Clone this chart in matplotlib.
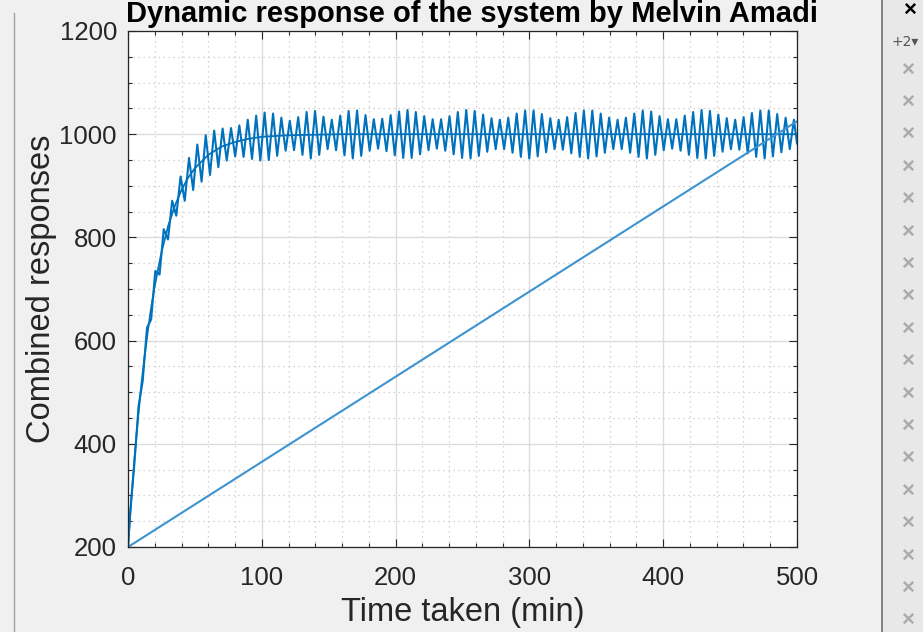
import matplotlib.pyplot as plt
from matplotlib.ticker import MultipleLocator

plt.rcParams['font.family'] = ['Liberation Sans', 'DejaVu Sans']

# smooth step response
t_smooth = [0, 2.5, 5, 7.5, 10, 12.5, 15, 17.5, 20, 25, 30, 35, 40, 45, 50,
            60, 70, 80, 90, 100, 120, 140, 160, 200, 300, 400, 500]
y_smooth = [200, 294, 377, 450, 515, 572, 622, 667, 706, 771, 822, 861, 892, 916, 934,
            960, 976, 985, 991, 995, 998, 999, 1000, 1000, 1000, 1000, 1000]

# oscillating response: peaks / troughs
t_osc = [0, 1.6, 4.7, 7.9, 11.0, 14.2, 17.3, 20.4, 23.6, 26.7, 29.9,
         33.0, 36.1, 39.3, 42.4, 45.6, 48.7, 51.8, 55.0, 58.1, 61.3,
         64.4, 67.5, 70.7, 73.8, 77.0, 80.1, 83.2, 86.4, 89.5, 92.7,
         95.8, 98.9, 102.1, 105.2, 108.4, 111.5, 114.6, 117.8, 120.9, 124.1,
         127.2, 130.4, 133.5, 136.6, 139.8, 142.9, 146.1, 149.2, 152.3, 155.5,
         158.6, 161.8, 164.9, 168.0, 171.2, 174.3, 177.5, 180.6, 183.7, 186.9,
         190.0, 193.2, 196.3, 199.4, 202.6, 205.7, 208.9, 212.0, 215.1, 218.3,
         221.4, 224.6, 227.7, 230.8, 234.0, 237.1, 240.3, 243.4, 246.5, 249.7,
         252.8, 256.0, 259.1, 262.2, 265.4, 268.5, 271.7, 274.8, 277.9, 281.1,
         284.2, 287.4, 290.5, 293.6, 296.8, 299.9, 303.1, 306.2, 309.3, 312.5,
         315.6, 318.8, 321.9, 325.0, 328.2, 331.3, 334.5, 337.6, 340.7, 343.9,
         347.0, 350.2, 353.3, 356.4, 359.6, 362.7, 365.9, 369.0, 372.1, 375.3,
         378.4, 381.6, 384.7, 387.8, 391.0, 394.1, 397.3, 400.4, 403.5, 406.7,
         409.8, 413.0, 416.1, 419.2, 422.4, 425.5, 428.7, 431.8, 434.9, 438.1,
         441.2, 444.4, 447.5, 450.6, 453.8, 456.9, 460.1, 463.2, 466.3, 469.5,
         472.6, 475.8, 478.9, 482.0, 485.2, 488.3, 491.5, 494.6, 497.7, 500]
y_osc = [200, 265, 359, 473, 522, 625, 641, 735, 728, 816, 796,
         871, 842, 918, 871, 954, 892, 980, 908, 998, 921,
         1007, 936, 1011, 949, 1012, 957, 1017, 956, 1028, 952,
         1036, 949, 1042, 950, 1040, 958, 1032, 968, 1026, 969,
         1033, 960, 1043, 953, 1045, 960, 1034, 971, 1028, 969,
         1036, 959, 1045, 953, 1046, 958, 1037, 968, 1029, 972,
         1030, 967, 1037, 959, 1044, 954, 1047, 954, 1043, 961,
         1035, 969, 1029, 972, 1029, 968, 1035, 961, 1043, 954,
         1047, 953, 1045, 958, 1038, 966, 1031, 971, 1028, 971,
         1032, 964, 1040, 956, 1046, 953, 1046, 957, 1039, 965,
         1031, 971, 1028, 970, 1033, 963, 1041, 956, 1046, 953,
         1046, 957, 1040, 964, 1032, 971, 1028, 971, 1032, 964,
         1040, 956, 1046, 953, 1044, 960, 1035, 969, 1029, 972,
         1029, 968, 1036, 960, 1043, 954, 1047, 953, 1045, 958,
         1038, 966, 1031, 971, 1028, 970, 1033, 963, 1041, 956,
         1046, 953, 1046, 957, 1039, 965, 1032, 971, 1028, 982]

# straight ramp
t_ramp = [0, 500]
y_ramp = [200, 1025]

fig = plt.figure(figsize=(9.23, 6.32), dpi=100, facecolor='#f0f0f0')
ax = fig.add_axes([128 / 923, 1 - 547 / 632, 669 / 923, 516 / 632])
ax.set_facecolor('white')

blue = '#0072BD'
ax.plot(t_osc, y_osc, color=blue, lw=1.5)
ax.plot(t_smooth, y_smooth, color=blue, lw=1.3)
ax.plot(t_ramp, y_ramp, color='#3d93cf', lw=1.5)

ax.set_xlim(0, 500)
ax.set_ylim(200, 1200)
ax.xaxis.set_major_locator(MultipleLocator(100))
ax.xaxis.set_minor_locator(MultipleLocator(20))
ax.yaxis.set_major_locator(MultipleLocator(200))
ax.yaxis.set_minor_locator(MultipleLocator(50))
ax.grid(which='major', color='#dcdcdc', lw=1.0, ls='-')
ax.grid(which='minor', color='#c8c8c8', lw=0.9, ls=(0, (1, 3)))
ax.set_axisbelow(True)
ax.tick_params(which='both', direction='in', top=True, right=True,
               colors='#262626', labelsize=18.5, width=0.8)
ax.tick_params(which='major', length=6, pad=8)
ax.tick_params(axis='x', which='major', pad=14)
ax.tick_params(which='minor', length=3)
for s in ax.spines.values():
    s.set_color('#262626')
    s.set_linewidth(0.9)

ax.set_xlabel('Time taken (min)', fontsize=23.5, color='#262626', labelpad=5)
ax.set_ylabel('Combined responses', fontsize=23.5, color='#262626', labelpad=2)
fig.text(472 / 923, 1 - 22 / 632, 'Dynamic response of the system by Melvin Amadi',
         ha='center', va='baseline', fontsize=21, fontweight='bold', color='black')

# window chrome around the screenshot
fig.add_artist(plt.Line2D([14 / 923, 14 / 923], [0, 1 - 13 / 632], color='#a0a0a0', lw=1))
fig.patches.append(plt.Rectangle((882 / 923, 0), 41 / 923, 1, transform=fig.transFigure,
                                 facecolor='#e8e8e8', edgecolor='none'))
fig.add_artist(plt.Line2D([882 / 923, 882 / 923], [0, 1], color='#6e6e6e', lw=1.2))
fig.text(910 / 923, 1 - 10 / 632, '×', ha='center', va='center', fontsize=16,
         fontweight='bold', color='black')
fig.text(905 / 923, 1 - 42 / 632, '+2▾', ha='center', va='center', fontsize=10,
         color='#555555', family=['DejaVu Sans'])
ypix = 70
while ypix < 625:
    fig.text(908 / 923, 1 - ypix / 632, '×', ha='center', va='center', fontsize=16,
             color='#ababab', fontweight='bold')
    ypix += 32.4

fig.savefig('out.png', dpi=100, facecolor=fig.get_facecolor())
